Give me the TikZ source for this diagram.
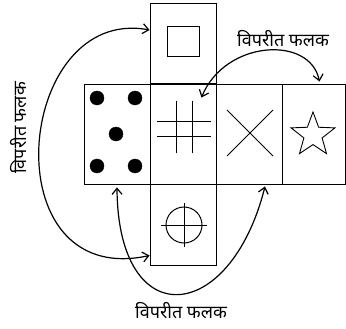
\documentclass[tikz,border=0pt]{standalone}
\usepackage{fontspec}
\newfontfamily\hindifont[Script=Devanagari]{Noto Sans}
\usepackage{tikz}
\usetikzlibrary{arrows.meta,shapes.geometric}

\tikzset{
    face/.style={draw, line width=0.9pt, minimum width=66pt, inner sep=0pt},
    oppo/.style={{Straight Barb[length=6pt,width=10pt]}-{Straight Barb[length=6pt,width=10pt]}, line width=1.2pt},
    label/.style={font=\hindifont\fontsize{18}{20}\selectfont, inner sep=0pt}
}

\begin{document}
\begin{tikzpicture}[x=1pt, y=-1pt]
    \useasboundingbox (0,0) rectangle (346,329);

    % Cells of the net
    \node[face, minimum height=80pt] (top) at (183,43) {};
    \node[face, minimum height=100pt] (dots) at (117,134) {};
    \node[face, minimum height=100pt] (hash) at (183,134) {};
    \node[face, minimum height=100pt] (cross) at (249,134) {};
    \node[face, minimum height=100pt, minimum width=63pt] (starcell) at (313.5,134) {};
    \node[face, minimum height=81pt] (bottom) at (183,224.5) {};

    % Symbols on the faces
    \draw[line width=1pt] (167,27) rectangle (199,57);
    \foreach \x/\y in {97/98, 135/98, 116/134, 97/166, 135/166}
        \filldraw[black] (\x,\y) circle (7pt);
    \draw[line width=0.9pt] (176,101) -- (176,153) (192,101) -- (192,153)
        (157,121) -- (211,121) (157,136) -- (211,136);
    \draw[line width=0.9pt] (227,110) -- (273,156) (227,156) -- (273,110);
    \node[draw, line width=0.9pt, star, star points=5, star point ratio=2.4,
        minimum size=46pt, inner sep=0pt] (star) at (313,135) {};
    \draw[line width=1pt] (184,225) circle (18pt);
    \draw[line width=0.9pt] (161,225) -- (207,225) (184,203) -- (184,247);

    % Opposite faces
    \coordinate (A) at ([yshift=13pt]top.west);
    \coordinate (B) at ([yshift=-31pt]bottom.west);
    \draw[oppo] (A) .. controls (15,5) and (-10,290) .. (B);
    \coordinate (C) at ([xshift=-15pt, yshift=-14pt]hash.north east);
    \coordinate (D) at ([xshift=6pt, yshift=2pt]starcell.north);
    \draw[oppo] (C) .. controls (225,40) and (310,35) .. (D);
    \coordinate (E) at ([yshift=-3pt]dots.south);
    \coordinate (F) at ([xshift=16pt, yshift=-2pt]cross.south);
    \draw[oppo] (E) .. controls (118,335) and (230,325) .. (F);

    % Labels
    \node[label] (ltop) at (283,39) {विपरीत फलक};
    \node[label, rotate=90] (lleft) at (19,128) {विपरीत फलक};
    \node[label] (lbot) at (181,311) {विपरीत फलक};
\end{tikzpicture}
\end{document}
